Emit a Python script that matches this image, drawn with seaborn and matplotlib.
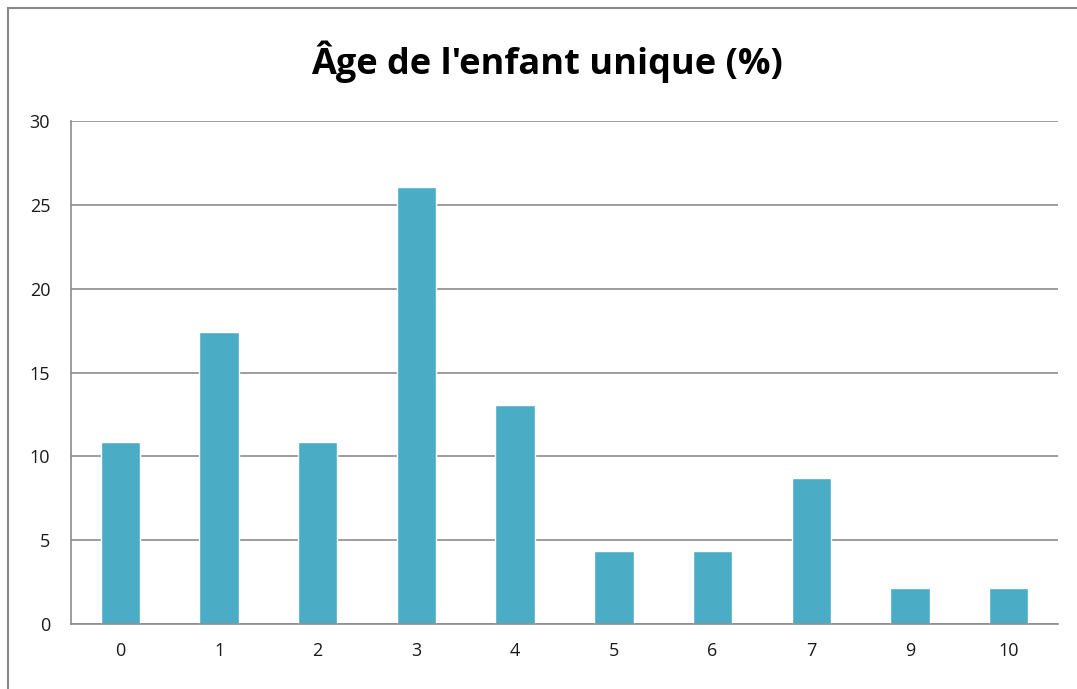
import numpy as np
import pandas as pd
import matplotlib
matplotlib.use("Agg")
import matplotlib.pyplot as plt
import seaborn as sns
from matplotlib.patches import Rectangle

# Data (46 children -> percent)
ages = ["0", "1", "2", "3", "4", "5", "6", "7", "9", "10"]
percent = [10.87, 17.39, 10.87, 26.09, 13.04, 4.35, 4.35, 8.70, 2.17, 2.17]
yticks = [0, 5, 10, 15, 20, 25, 30]

df = pd.DataFrame({"Age": ages, "Pct": percent})

sns.set_style("white")
plt.rcParams["font.family"] = ["Open Sans", "DejaVu Sans"]

fig = plt.figure(figsize=(10.77, 6.89), dpi=100)
ax = fig.add_axes([0.0659, 0.0943, 0.9165, 0.7301])

sns.barplot(data=df, x="Age", y="Pct", order=ages, color="#4BACC6",
            saturation=1, width=0.4, ax=ax)

grid_c = "#8C8C8C"
ax.set_ylim(0, 30)
ax.set_xlim(-0.5, len(ages) - 0.5)
ax.set_yticks(yticks)
ax.set_yticklabels([str(t) for t in yticks], fontsize=13, color="#1a1a1a")
ax.set_xticklabels(ages, fontsize=13, color="#1a1a1a")
ax.yaxis.grid(True, color=grid_c, linewidth=1.2)
ax.set_axisbelow(True)
ax.set_xlabel("")
ax.set_ylabel("")

for s in ["top", "right"]:
    ax.spines[s].set_visible(False)
for s in ["left", "bottom"]:
    ax.spines[s].set_color(grid_c)
    ax.spines[s].set_linewidth(1.2)

# tick marks on category boundaries, none on the labels
ax.set_xticks(np.arange(-0.5, len(ages)), minor=True)
ax.tick_params(axis="x", which="major", length=0, pad=13)
ax.tick_params(axis="x", which="minor", length=8, width=1.2, color=grid_c)
ax.tick_params(axis="y", length=6, width=1.2, color=grid_c, pad=9)

fig.text(0.508, 0.91, "Âge de l'enfant unique (%)", ha="center", va="center",
         fontsize=26, fontweight="bold", color="black")

# outer chart border
fig.patches.append(Rectangle((8 / 1077, -0.1), 1.2, 0.1 + (689 - 8) / 689,
                             transform=fig.transFigure, fill=False,
                             edgecolor="#888888", linewidth=1.5))

fig.savefig("out.png", dpi=100)
